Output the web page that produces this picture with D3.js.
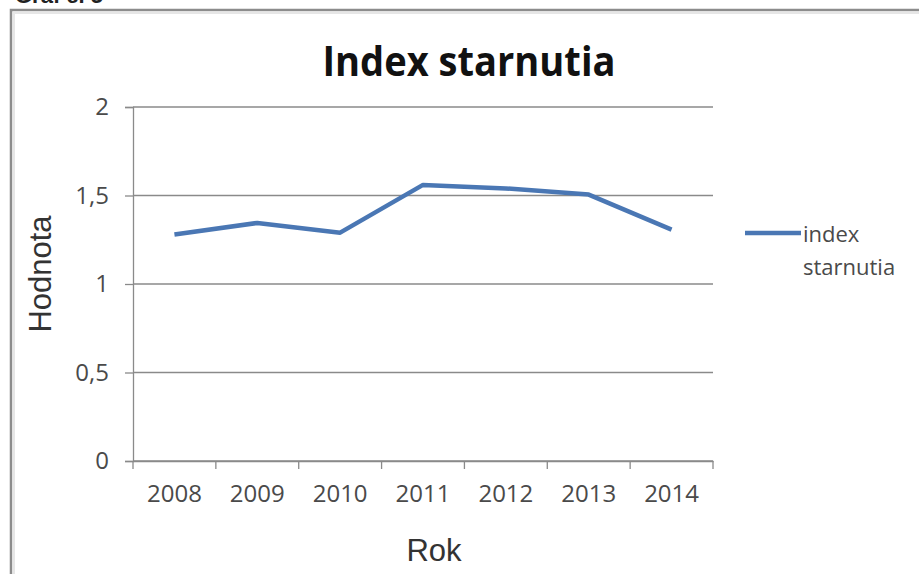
<!DOCTYPE html>
<html>
<head>
<meta charset="utf-8">
<script src="https://cdn.jsdelivr.net/npm/d3@7"></script>
<style>
  html, body { margin: 0; padding: 0; background: #fff; overflow: hidden; }
  #chart { width: 919px; height: 574px; }
</style>
</head>
<body>
<div id="chart"></div>
<script>
const years = ["2008", "2009", "2010", "2011", "2012", "2013", "2014"];
const indexStarnutia = [1.28, 1.345, 1.29, 1.56, 1.54, 1.505, 1.307];
const yTicks = [0, 0.5, 1, 1.5, 2];
const seriesName = ["index", "starnutia"];

const width = 919,
  height = 574;
const plot = { left: 133, right: 713, top: 107, bottom: 461 };

const svg = d3
  .select("#chart")
  .append("svg")
  .attr("width", width)
  .attr("height", height);

svg.append("rect").attr("width", width).attr("height", height).attr("fill", "#fff");

// caption cut off at the top of the picture
svg
  .append("text")
  .attr("x", 15)
  .attr("y", 3)
  .attr("font-family", "Liberation Sans, Arial, sans-serif")
  .attr("font-weight", "bold")
  .attr("font-size", 22)
  .attr("fill", "#222")
  .text("Graf č. 5");

// chart frame (runs past right and bottom edges)
svg
  .append("path")
  .attr("d", `M11,${height + 5} L11,10 L${width + 5},10`)
  .attr("fill", "none")
  .attr("stroke", "#8c8c8c")
  .attr("stroke-width", 2.5);
svg
  .append("path")
  .attr("d", `M14,${height + 5} L14,13 L${width + 5},13`)
  .attr("fill", "none")
  .attr("stroke", "#e6e6e6")
  .attr("stroke-width", 2);

const x = d3
  .scaleBand()
  .domain(years)
  .range([plot.left, plot.right])
  .padding(0);

const y = d3
  .scaleLinear()
  .domain([0, 2])
  .range([plot.bottom, plot.top]);

// gridlines
svg
  .append("g")
  .selectAll("line")
  .data(yTicks)
  .join("line")
  .attr("x1", plot.left)
  .attr("x2", plot.right)
  .attr("y1", (d) => y(d))
  .attr("y2", (d) => y(d))
  .attr("stroke", "#8a8a8a")
  .attr("stroke-width", 1.3);

// y axis
const yAxis = svg
  .append("g")
  .attr("transform", `translate(${plot.left},0)`)
  .call(
    d3
      .axisLeft(y)
      .tickValues(yTicks)
      .tickSize(8)
      .tickPadding(16)
      .tickFormat((d) => String(d).replace(".", ","))
  );
yAxis.select(".domain").attr("stroke", "#8a8a8a").attr("stroke-width", 1.3);
yAxis.selectAll(".tick line").attr("stroke", "#8a8a8a").attr("stroke-width", 1.3);
yAxis
  .selectAll(".tick text")
  .attr("font-family", "Open Sans, sans-serif")
  .attr("font-size", 24)
  .attr("fill", "#4a4a4a");

// x axis
const xAxis = svg
  .append("g")
  .attr("transform", `translate(0,${plot.bottom})`)
  .call(d3.axisBottom(x).tickSize(0).tickPadding(24));
xAxis.select(".domain").attr("stroke", "#8a8a8a").attr("stroke-width", 1.3);
xAxis
  .selectAll(".tick text")
  .attr("font-family", "Open Sans, sans-serif")
  .attr("font-size", 24)
  .attr("fill", "#4a4a4a");

// category boundary ticks
svg
  .append("g")
  .selectAll("line")
  .data(years.concat(["end"]))
  .join("line")
  .attr("x1", (d, i) => (i < years.length ? x(d) : x(years[years.length - 1]) + x.bandwidth()))
  .attr("x2", (d, i) => (i < years.length ? x(d) : x(years[years.length - 1]) + x.bandwidth()))
  .attr("y1", plot.bottom)
  .attr("y2", plot.bottom + 8)
  .attr("stroke", "#8a8a8a")
  .attr("stroke-width", 1.3);

// series line
const line = d3
  .line()
  .x((d, i) => x(years[i]) + x.bandwidth() / 2)
  .y((d) => y(d));

svg
  .append("path")
  .datum(indexStarnutia)
  .attr("fill", "none")
  .attr("stroke", "#4a77b4")
  .attr("stroke-width", 4.5)
  .attr("stroke-linejoin", "round")
  .attr("d", line);

// title
svg
  .append("text")
  .attr("x", 469)
  .attr("y", 76)
  .attr("text-anchor", "middle")
  .attr("font-family", "Open Sans, sans-serif")
  .attr("font-weight", "bold")
  .attr("font-size", 41)
  .attr("textLength", 293)
  .attr("lengthAdjust", "spacingAndGlyphs")
  .attr("fill", "#111")
  .text("Index starnutia");

// axis titles
svg
  .append("text")
  .attr("x", 434)
  .attr("y", 561)
  .attr("text-anchor", "middle")
  .attr("font-family", "Liberation Sans, Arial, sans-serif")
  .attr("font-size", 31)
  .attr("fill", "#333")
  .text("Rok");

svg
  .append("text")
  .attr("transform", "translate(51,274) rotate(-90)")
  .attr("text-anchor", "middle")
  .attr("font-family", "Liberation Sans, Arial, sans-serif")
  .attr("font-size", 31)
  .attr("fill", "#333")
  .text("Hodnota");

// legend
const legend = svg.append("g").attr("transform", "translate(745,233)");
legend
  .append("line")
  .attr("x1", 0)
  .attr("x2", 56)
  .attr("y1", 0)
  .attr("y2", 0)
  .attr("stroke", "#4a77b4")
  .attr("stroke-width", 4.5);
legend
  .selectAll("text")
  .data(seriesName)
  .join("text")
  .attr("x", 58)
  .attr("y", (d, i) => 9 + i * 33)
  .attr("font-family", "Open Sans, sans-serif")
  .attr("font-size", 22)
  .attr("fill", "#4a4a4a")
  .text((d) => d);
</script>
</body>
</html>
